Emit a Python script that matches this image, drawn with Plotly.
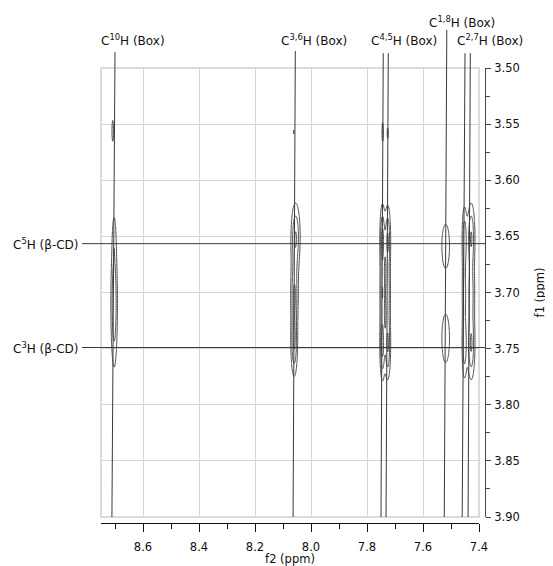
import numpy as np
import plotly.graph_objects as go

# ---------------- data ----------------
f2_range = [8.75, 7.40]   # ppm, reversed
f1_range = [3.90, 3.50]   # ppm, reversed

# cross-peak list
peak_f2 = [8.708, 8.703, 8.703,
           8.062, 8.055, 8.059, 8.060,
           7.744, 7.745, 7.745, 7.745, 7.726, 7.726, 7.726, 7.726,
           7.519, 7.519,
           7.452, 7.452, 7.452, 7.428, 7.428, 7.428]
peak_f1 = [3.556, 3.709, 3.648,
           3.557, 3.650, 3.700, 3.745,
           3.557, 3.652, 3.700, 3.748, 3.558, 3.652, 3.700, 3.748,
           3.6586, 3.741,
           3.652, 3.700, 3.748, 3.650, 3.700, 3.748]
peak_w2 = [0.0035, 0.008, 0.005,
           0.002, 0.011, 0.009, 0.008,
           0.003, 0.006, 0.006, 0.006, 0.003, 0.007, 0.007, 0.007,
           0.014, 0.014,
           0.006, 0.006, 0.006, 0.009, 0.009, 0.009]
peak_w1 = [0.012, 0.039, 0.015,
           0.004, 0.020, 0.020, 0.020,
           0.010, 0.020, 0.020, 0.020, 0.007, 0.020, 0.020, 0.020,
           0.020, 0.022,
           0.020, 0.020, 0.020, 0.020, 0.020, 0.020]
peak_amp = [1.35, 2.95, 0.9,
            1.1, 3.0, 2.8, 3.0,
            1.4, 3.2, 2.6, 3.2, 1.25, 3.0, 2.4, 3.0,
            1.6, 1.6,
            2.6, 2.0, 2.6, 3.0, 2.4, 3.0]

contour_start, contour_end, contour_step = 1.0, 4.0, 1.0

# assignment labels (top)
top_labels = ["C<sup>10</sup>H (Box)", "C<sup>3,6</sup>H (Box)", "C<sup>4,5</sup>H (Box)",
              "C<sup>1,8</sup>H (Box)", "C<sup>2,7</sup>H (Box)"]
top_label_x = [0.0841, 0.5643, 0.8016, 0.9556, 1.0299]
top_label_pos = [1.0624, 1.0624, 1.0624, 1.1024, 1.0624]

# assignment lines (f2 at top end, f2 at bottom end, top end height)
line_f2_top = [8.700, 8.056, 7.742, 7.724, 7.515, 7.450, 7.431]
line_f2_bottom = [8.711, 8.064, 7.750, 7.732, 7.524, 7.460, 7.439]
line_top = [1.0356, 1.038, 1.033, 1.033, 1.085, 1.033, 1.033]

# beta-CD assignment (left)
cd_labels = ["C<sup>5</sup>H (β-CD)", "C<sup>3</sup>H (β-CD)"]
cd_f1 = [3.6565, 3.749]

x_ticks_step, x_minor_step = 0.2, 0.1
y_ticks_step, y_minor_step = 0.05, 0.025

# ---------------- surface from peak list ----------------
xs = []
for c in sorted(set(peak_f2)):
    xs.extend(np.round(np.arange(c - 0.045, c + 0.045, 0.001), 4).tolist())
xs = np.array(sorted(set(xs)))
xs = xs[(xs >= 7.40) & (xs <= 8.75)]
ys = np.round(np.arange(3.50, 3.9001, 0.0015), 4)
X, Y = np.meshgrid(xs, ys)
Z = np.zeros_like(X)
for a, b, w2, w1, amp in zip(peak_f2, peak_f1, peak_w2, peak_w1, peak_amp):
    Z += amp * np.exp(-((X - a) ** 2 / (2 * w2 ** 2) + (Y - b) ** 2 / (2 * w1 ** 2)))
Z = np.round(Z, 3)

fig = go.Figure()
fig.add_trace(go.Contour(
    x=xs, y=ys, z=Z,
    contours=dict(coloring="lines", start=contour_start, end=contour_end, size=contour_step),
    colorscale=[[0, "#4a4a4a"], [1, "#4a4a4a"]],
    line=dict(width=1, smoothing=1),
    showscale=False, hoverinfo="skip",
))

FONT = "DejaVu Sans"
shapes = []
# plot border box
shapes.append(dict(type="rect", xref="x domain", yref="y domain", x0=0, x1=1, y0=0, y1=1,
                   line=dict(color="#cfcfcf", width=1.5), layer="below"))
for xt, xb, yt in zip(line_f2_top, line_f2_bottom, line_top):
    shapes.append(dict(type="line", xref="x", yref="y domain", x0=xb, x1=xt, y0=0, y1=yt,
                       line=dict(color="#3a3a3a", width=1)))
for yv in cd_f1:
    shapes.append(dict(type="line", xref="x domain", yref="y", x0=-0.0503, x1=1.0159, y0=yv, y1=yv,
                       line=dict(color="#3a3a3a", width=1)))

annotations = []
for t, xv, yv in zip(top_labels, top_label_x, top_label_pos):
    annotations.append(dict(text=t, x=xv, y=yv, xref="x domain", yref="y domain", showarrow=False,
                            xanchor="center", yanchor="middle",
                            font=dict(family=FONT, size=12, color="#111")))
for t, yv in zip(cd_labels, cd_f1):
    annotations.append(dict(text=t, x=-0.053, y=yv, xref="x domain", yref="y", showarrow=False,
                            xanchor="right", yanchor="middle",
                            font=dict(family=FONT, size=12, color="#111")))

# the page body adds an 8px offset; the figure is sized so the plot lands where the reference has it
fig.update_layout(
    width=545, height=558,
    margin=dict(l=93, r=68, t=60, b=43),
    plot_bgcolor="white", paper_bgcolor="white",
    font=dict(family=FONT, size=11.5, color="#111"),
    showlegend=False,
    shapes=shapes, annotations=annotations,
    xaxis=dict(
        range=f2_range, domain=[0, 378 / 384], anchor="free", position=0,
        showline=True, linecolor="#111", linewidth=1,
        ticks="outside", ticklen=8, tickwidth=1, tickcolor="#111",
        tick0=7.4, dtick=x_ticks_step, tickformat=".1f", ticklabelstandoff=5,
        minor=dict(tick0=7.4, dtick=x_minor_step, ticks="outside", ticklen=5,
                   tickcolor="#111", showgrid=False),
        showgrid=True, gridcolor="#d6d6d6", gridwidth=1, zeroline=False,
        title=dict(text="f2 (ppm)", standoff=0, font=dict(size=11.5)),
        automargin=False,
    ),
    yaxis=dict(
        range=f1_range, domain=[6 / 455, 1], side="right", anchor="free", position=1,
        showline=True, linecolor="#444", linewidth=1,
        ticks="outside", ticklen=5, tickwidth=1, tickcolor="#444",
        tick0=3.5, dtick=y_ticks_step, tickformat=".2f", ticklabelstandoff=1,
        minor=dict(tick0=3.5, dtick=y_minor_step, ticks="outside", ticklen=4,
                   tickcolor="#444", showgrid=False),
        showgrid=True, gridcolor="#d6d6d6", gridwidth=1, zeroline=False,
        title=dict(text="f1 (ppm)", standoff=17, font=dict(size=11.5)),
        automargin=False,
    ),
)

fig.write_html("out.html")
